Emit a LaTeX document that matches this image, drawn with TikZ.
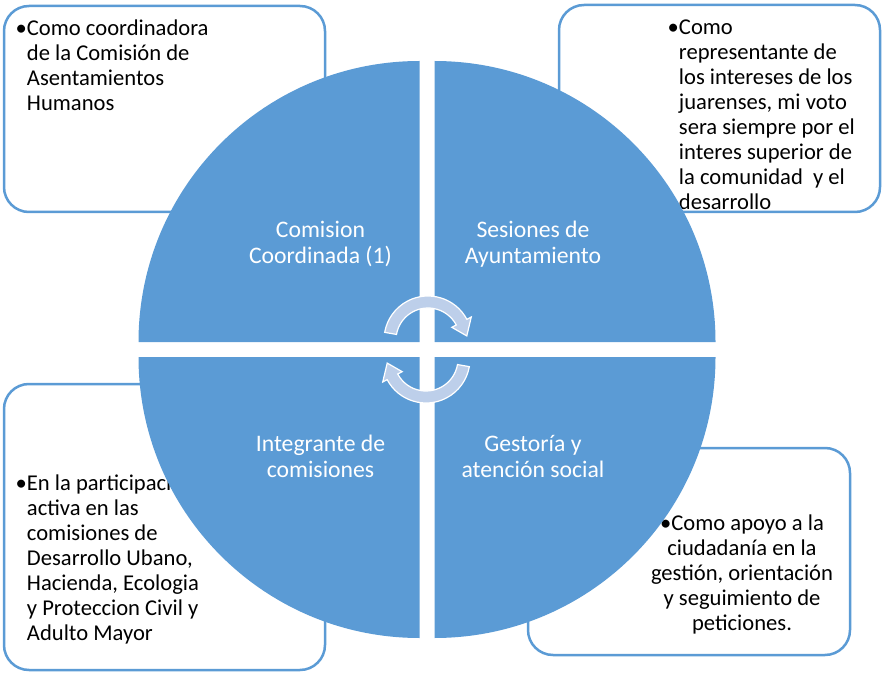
\documentclass[tikz,border=0pt]{standalone}
\usepackage{fontspec}
\setmainfont{Carlito}
\usepackage{tikz}
\definecolor{quadblue}{RGB}{91,155,213}
\definecolor{turnblue}{RGB}{189,207,234}

\begin{document}
\begin{tikzpicture}[x=1pt,y=1pt]

%
% Styles
%
\tikzstyle{box}   = [draw=quadblue,line width=2.5pt,rounded corners=25pt,fill=white,inner sep=0pt]
\tikzstyle{note}  = [inner sep=0pt,align=left,font=\fontsize{22.6}{25}\selectfont]
\tikzstyle{quad}  = [fill=quadblue]
\tikzstyle{title} = [text=white,align=center,font=\fontsize{23.7}{26}\selectfont]
\tikzstyle{turn}  = [fill=turnblue,draw=white,line width=1.2pt]

\useasboundingbox (0,0) rectangle (883,673);

% boxes behind the circle
\node[box,minimum width=321pt,minimum height=206pt] (b1) at (164.5,564)   {};
\node[box,minimum width=321pt,minimum height=207pt] (b2) at (719.5,564.5) {};
\node[box,minimum width=321pt,minimum height=286pt] (b3) at (164.5,146)   {};
\node[box,minimum width=322pt,minimum height=207pt] (b4) at (689,121.5)   {};

\node[note,anchor=north west] (t1) at ([xshift=24pt,yshift=-15pt]b1.north west)
  {\llap{\textbullet}Como coordinadora\\de la Comisión de\\Asentamientos\\Humanos};
\node[note,anchor=north west] (t2) at ([xshift=121pt,yshift=-16pt]b2.north west)
  {\llap{\textbullet}Como\\representante de\\los intereses de los\\juarenses, mi voto\\sera siempre por el\\interes superior de\\la comunidad\ \ y el\\desarrollo};
\node[note,anchor=north west] (t3) at ([xshift=24pt,yshift=-92pt]b3.north west)
  {\llap{\textbullet}En la participación\\activa en las\\comisiones de\\Desarrollo Ubano,\\Hacienda, Ecologia\\y Proteccion Civil y\\Adulto Mayor};
\node[note,align=center,anchor=north] (t4) at ([xshift=53pt,yshift=-68pt]b4.north)
  {\textbullet Como apoyo a la\\ciudadanía en la\\gestión, orientación\\y seguimiento de\\peticiones.};

% quadrants
\foreach \cx/\cy/\a in {419.5/331/90, 434.5/331/0, 419.5/316/180, 434.5/316/270}
  \fill[quad] (\cx,\cy) -- ++(\a:281) arc[start angle=\a,end angle=\a+90,radius=281] -- cycle;

\node[title] (q1) at (320.5,429) {Comision\\Coordinada (1)};
\node[title] (q2) at (533,429)   {Sesiones de\\Ayuntamiento};
\node[title] (q3) at (320.5,217) {Integrante de\\comisiones};
\node[title] (q4) at (533,217)   {Gestoría y\\atención social};

% cycle arrows
\foreach \r in {0,180}
{
  \begin{scope}[shift={(427,323.5)},rotate=\r,shift={(1,9.5)}]
    \filldraw[turn] (170:32) arc[start angle=170,end angle=28,radius=32] -- (28:27) -- (6:39)
      -- (28:49) -- (28:44) arc[start angle=28,end angle=170,radius=44] -- cycle;
  \end{scope}
}

\end{tikzpicture}
\end{document}
